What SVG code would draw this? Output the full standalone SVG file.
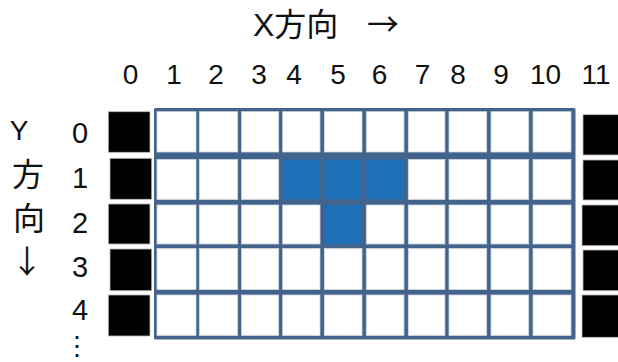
<svg xmlns="http://www.w3.org/2000/svg" width="618" height="362" viewBox="0 0 618 362">
<style>
.t{font-family:"Liberation Sans","Noto Sans CJK JP",sans-serif;font-size:28px;fill:#111;text-anchor:middle}
.cjk{font-family:"Noto Sans CJK JP","Noto Sans CJK SC",sans-serif;font-size:32px;fill:#111}
.c{fill:#ffffff;stroke:#cfd6df;stroke-width:0.8}
.b{fill:#1f6fb6}
.k{fill:#000;stroke:#bbbbbb;stroke-width:0.8}
</style>
<rect width="618" height="362" fill="#ffffff"/>
<g id="title">
<text x="253" y="36" style="font-family:'Liberation Sans','Noto Sans CJK JP',sans-serif;font-size:32px;fill:#111">X<tspan class="cjk" style="font-size:32px">方向</tspan></text>
<text x="367" y="36" class="cjk">→</text>
</g>
<g id="xlabels" class="t">
<text x="130.5" y="84">0</text>
<text x="174" y="84">1</text>
<text x="216" y="84">2</text>
<text x="259" y="84">3</text>
<text x="294" y="84">4</text>
<text x="338" y="84">5</text>
<text x="379.5" y="84">6</text>
<text x="422.5" y="84">7</text>
<text x="458" y="84">8</text>
<text x="501" y="84">9</text>
<text x="545.5" y="84">10</text>
<text x="596" y="84">11</text>
</g>
<g id="ylabels">
<text x="19" y="140" class="t">Y</text>
<text x="12" y="186" class="cjk">方</text>
<text x="13" y="230" class="cjk">向</text>
<text x="11" y="273" class="cjk">↓</text>
<g class="t" style="font-size:29px">
<text x="80" y="143">0</text>
<text x="80" y="188">1</text>
<text x="80" y="233">2</text>
<text x="80" y="277">3</text>
<text x="80" y="320">4</text>
</g>
<text x="77" y="355" class="cjk" style="text-anchor:middle;font-size:26px">⋮</text>
</g>
<g id="left-wall">
<rect class="k" x="108.3" y="111.7" width="41.7" height="40.6"/>
<rect class="k" x="110" y="158.3" width="41.7" height="41"/>
<rect class="k" x="108.3" y="204" width="41.7" height="40"/>
<rect class="k" x="110" y="249" width="41.7" height="41.7"/>
<rect class="k" x="108.3" y="295" width="41.7" height="41"/>
</g>
<g id="right-wall">
<rect class="k" x="583" y="114.7" width="40" height="40.3"/>
<rect class="k" x="583" y="160" width="40" height="40"/>
<rect class="k" x="582" y="205" width="40" height="40.7"/>
<rect class="k" x="583" y="250" width="40" height="40.7"/>
<rect class="k" x="582" y="295" width="40" height="42.3"/>
</g>
<g id="grid">
<rect x="154" y="108" width="421.5" height="231.5" rx="1.5" fill="#42638b"/>
<g id="row0">
<rect class="c" x="157" y="111.7" width="39" height="40.3"/>
<rect class="c" x="199.3" y="111.7" width="38.4" height="40.3"/>
<rect class="c" x="241.5" y="111.7" width="37.2" height="40.3"/>
<rect class="c" x="282.7" y="111.7" width="37.3" height="40.3"/>
<rect class="c" x="324.3" y="111.7" width="37.7" height="40.3"/>
<rect class="c" x="366.3" y="111.7" width="37.7" height="40.3"/>
<rect class="c" x="408.3" y="111.7" width="36.6" height="40.3"/>
<rect class="c" x="449" y="111.7" width="37.7" height="40.3"/>
<rect class="c" x="491" y="111.7" width="37.7" height="40.3"/>
<rect class="c" x="533" y="111.7" width="38" height="40.3"/>
</g>
<g id="row1">
<rect class="c" x="157" y="159.5" width="39" height="40"/>
<rect class="c" x="199.3" y="159.5" width="38.4" height="40"/>
<rect class="c" x="241.5" y="159.5" width="37.2" height="40"/>
<rect class="b" x="282.7" y="159.5" width="37.3" height="40"/>
<rect class="b" x="324.3" y="159.5" width="37.7" height="40"/>
<rect class="b" x="366.3" y="159.5" width="37.7" height="40"/>
<rect class="c" x="408.3" y="159.5" width="36.6" height="40"/>
<rect class="c" x="449" y="159.5" width="37.7" height="40"/>
<rect class="c" x="491" y="159.5" width="37.7" height="40"/>
<rect class="c" x="533" y="159.5" width="38" height="40"/>
</g>
<g id="row2">
<rect class="c" x="157" y="205" width="39" height="39"/>
<rect class="c" x="199.3" y="205" width="38.4" height="39"/>
<rect class="c" x="241.5" y="205" width="37.2" height="39"/>
<rect class="c" x="282.7" y="205" width="37.3" height="39"/>
<rect class="b" x="324.3" y="205" width="37.7" height="39"/>
<rect class="c" x="366.3" y="205" width="37.7" height="39"/>
<rect class="c" x="408.3" y="205" width="36.6" height="39"/>
<rect class="c" x="449" y="205" width="37.7" height="39"/>
<rect class="c" x="491" y="205" width="37.7" height="39"/>
<rect class="c" x="533" y="205" width="38" height="39"/>
</g>
<g id="row3">
<rect class="c" x="157" y="248.5" width="39" height="41"/>
<rect class="c" x="199.3" y="248.5" width="38.4" height="41"/>
<rect class="c" x="241.5" y="248.5" width="37.2" height="41"/>
<rect class="c" x="282.7" y="248.5" width="37.3" height="41"/>
<rect class="c" x="324.3" y="248.5" width="37.7" height="41"/>
<rect class="c" x="366.3" y="248.5" width="37.7" height="41"/>
<rect class="c" x="408.3" y="248.5" width="36.6" height="41"/>
<rect class="c" x="449" y="248.5" width="37.7" height="41"/>
<rect class="c" x="491" y="248.5" width="37.7" height="41"/>
<rect class="c" x="533" y="248.5" width="38" height="41"/>
</g>
<g id="row4">
<rect class="c" x="157" y="295" width="39" height="40.5"/>
<rect class="c" x="199.3" y="295" width="38.4" height="40.5"/>
<rect class="c" x="241.5" y="295" width="37.2" height="40.5"/>
<rect class="c" x="282.7" y="295" width="37.3" height="40.5"/>
<rect class="c" x="324.3" y="295" width="37.7" height="40.5"/>
<rect class="c" x="366.3" y="295" width="37.7" height="40.5"/>
<rect class="c" x="408.3" y="295" width="36.6" height="40.5"/>
<rect class="c" x="449" y="295" width="37.7" height="40.5"/>
<rect class="c" x="491" y="295" width="37.7" height="40.5"/>
<rect class="c" x="533" y="295" width="38" height="40.5"/>
</g>
</g>
</svg>
